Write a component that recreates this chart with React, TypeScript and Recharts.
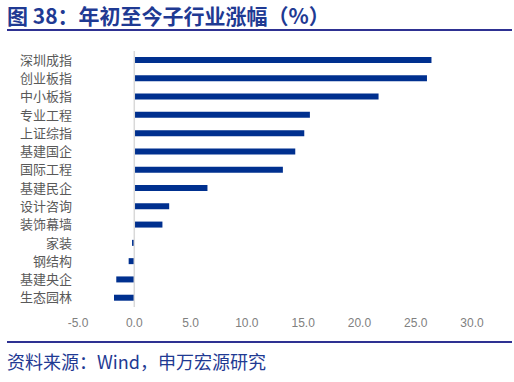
import React from 'react';
import { BarChart, Bar, XAxis, YAxis, ReferenceLine } from 'recharts';

const categories = [
  '深圳成指', '创业板指', '中小板指', '专业工程', '上证综指', '基建国企', '国际工程',
  '基建民企', '设计咨询', '装饰幕墙', '家装', '钢结构', '基建央企', '生态园林',
];
const gains = [26.4, 26.0, 21.7, 15.6, 15.1, 14.3, 13.2, 6.5, 3.1, 2.5, -0.2, -0.5, -1.6, -1.8];
const xTicks = [-5, 0, 5, 10, 15, 20, 25, 30];

const data = categories.map((name, i) => ({ name, value: gains[i] }));

const blue = '#2e3192';
const font = '"Liberation Sans", Arial, "Noto Sans CJK SC", sans-serif';

export default function App() {
  return (
    <div style={{ position: 'absolute', left: 0, top: 0, width: 514, height: 382, background: '#fff', fontFamily: font }}>
      <div style={{
        position: 'absolute', left: 7, top: 2, fontSize: 21, fontWeight: 'bold',
        color: '#1f3a93', fontFamily: '"Noto Sans CJK SC", sans-serif', lineHeight: '27px', whiteSpace: 'nowrap',
      }}>
        图 38：年初至今子行业涨幅（%）
      </div>
      <div style={{ position: 'absolute', left: 7, top: 29, width: 505, height: 2, background: blue }} />

      <div style={{ position: 'absolute', left: 0, top: 0 }}>
        <BarChart
          width={514}
          height={382}
          data={data}
          layout="vertical"
          margin={{ top: 51, right: 42, bottom: 45, left: 0 }}
          barCategoryGap={0}
        >
          <XAxis
            type="number"
            domain={[-5, 30]}
            ticks={xTicks}
            tickFormatter={(v: number) => v.toFixed(1)}
            axisLine={false}
            tickLine={false}
            tickSize={0}
            tickMargin={11}
            height={30}
            interval={0}
            tick={{ fontSize: 12, fill: '#808080', fontFamily: font }}
          />
          <YAxis
            type="category"
            dataKey="name"
            width={78}
            axisLine={false}
            tickLine={false}
            tickSize={0}
            tickMargin={6}
            interval={0}
            tick={{ fontSize: 13, fill: '#595959', fontFamily: '"Noto Sans CJK SC", sans-serif' }}
          />
          <ReferenceLine x={0} stroke="#d9d9d9" strokeWidth={1.5} />
          <Bar dataKey="value" fill="#00308f" barSize={6} isAnimationActive={false} />
        </BarChart>
      </div>

      <div style={{ position: 'absolute', left: 7, top: 341, width: 505, height: 2, background: blue }} />
      <div style={{
        position: 'absolute', left: 7, top: 349, fontSize: 18, color: '#1f3a93',
        fontFamily: '"Noto Sans CJK SC", sans-serif', lineHeight: '25px', whiteSpace: 'nowrap',
      }}>
        资料来源：Wind，申万宏源研究
      </div>
    </div>
  );
}
